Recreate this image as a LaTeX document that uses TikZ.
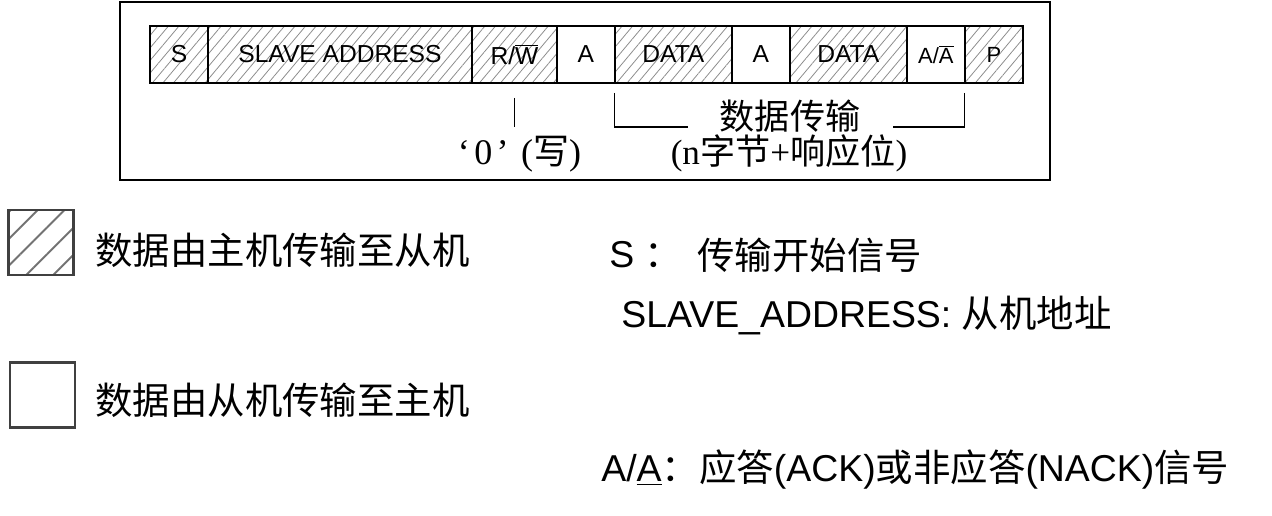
\documentclass[tikz,border=0pt]{standalone}
\usepackage{fontspec}
\setmainfont{Liberation Sans}
\newfontfamily\cjk{Noto Sans CJK SC}
\newfontfamily\serif{Liberation Serif}
\usetikzlibrary{positioning, patterns.meta}

\begin{document}
\begin{tikzpicture}[x=0.02cm, y=-0.02cm, node distance=0pt and 0pt,
		cell/.style={rectangle, draw=black, line width=1pt, minimum height=1.14cm, inner sep=0pt, outer sep=0pt, font=\fontsize{14}{16}\selectfont},
		master/.style={cell, pattern={Lines[angle=50, distance=4.6pt, line width=0.45pt]}, pattern color=black!45},
		slave/.style={cell, fill=white},
		legendbox/.style={rectangle, draw=black!75, line width=1.5pt, minimum width=1.3cm, minimum height=1.3cm, inner sep=0pt},
		legendtxt/.style={anchor=west, inner sep=0pt, font=\fontsize{21.3}{25}\selectfont},
		note/.style={inner sep=0pt, text height=0.84em, text depth=0.1em, font=\fontsize{20}{22}\selectfont}]
		
		\useasboundingbox (0,0) rectangle (1272,516);
		
		% Frame
		\draw[line width=1.2pt] (120,2) rectangle (1050,180);
		
		% Frame cells
		\node[master, minimum width=1.16cm, anchor=west] (s) at (150,54.5) {S};
		\node[master, minimum width=5.28cm, right=of s] (addr) {SLAVE ADDRESS};
		\node[master, minimum width=1.70cm, right=of addr] (rw) {R/$\overline{\mbox{W}}$};
		\node[slave, minimum width=1.16cm, right=of rw] (ack1) {A};
		\node[master, minimum width=2.34cm, right=of ack1] (data1) {DATA};
		\node[slave, minimum width=1.16cm, right=of data1] (ack2) {A};
		\node[master, minimum width=2.34cm, right=of ack2] (data2) {DATA};
		\node[slave, minimum width=1.16cm, right=of data2, font=\fontsize{12.5}{14}\selectfont] (ackn) {A/$\overline{\mbox{A}}$};
		\node[master, minimum width=1.16cm, right=of ackn, font=\fontsize{12.5}{14}\selectfont] (p) {P};
		
		% Notes under the frame
		\node[note, font=\fontsize{20.5}{22}\selectfont] (wr) at (519.5,158) {{\serif ‘\hspace{2.5pt}0\hspace{2.5pt}’}\hspace{7pt}{\serif(}{\cjk 写}{\serif)}};
		\node[note] (xfer) at (790,123) {\cjk 数据传输};
		\node[note] (nbytes) at (789,158) {{\serif(n}{\cjk 字节}{\serif+}{\cjk 响应位}{\serif)}};
		
		\coordinate (bl) at (688,127);
		\coordinate (br) at (893,127);
		\draw[line width=0.6pt] ([yshift=-0.3cm]rw.south) -- ([yshift=-0.88cm]rw.south);
		\draw[line width=0.6pt] ([yshift=-0.2cm]data1.south west) |- (bl);
		\draw[line width=0.6pt] ([yshift=-0.2cm]ackn.south east) |- (br);
		
		% Legend
		\node[legendbox, pattern={Lines[angle=45, distance=10.8pt, line width=1.1pt]}, pattern color=black!55] (hbox) at (41,242.5) {};
		\node[legendbox] (ebox) at (42.5,395) {};
		\node[legendtxt] (mtos) at (95,250) {\cjk 数据由主机传输至从机};
		\node[legendtxt] (stom) at (95,400) {\cjk 数据由从机传输至主机};
		
		\node[legendtxt] (sdef) at (609,255) {S {\cjk ：}};
		\node[legendtxt] (sdeftxt) at (697,255) {\cjk 传输开始信号};
		\node[legendtxt] (adef) at (621,316) {SLAVE\_ADDRESS: {\cjk 从机地址}};
		\node[legendtxt] (ackdef) at (601,470) {A/\underline{A}{\cjk ：}{\cjk 应答}(ACK){\cjk 或非应答}(NACK){\cjk 信号}};
		
	\end{tikzpicture}
\end{document}
